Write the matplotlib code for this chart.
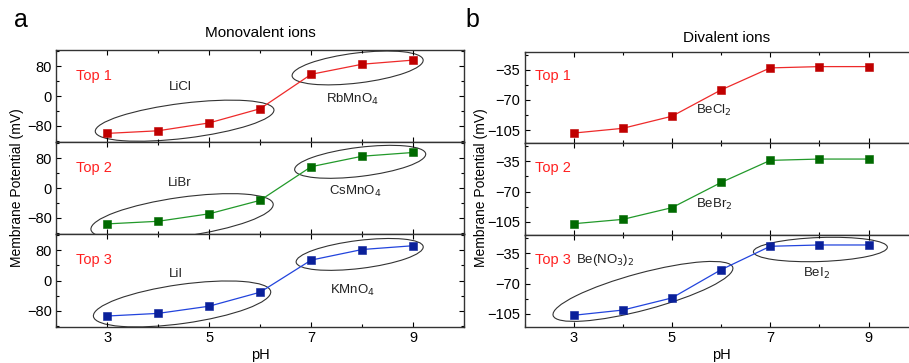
import matplotlib
matplotlib.use("Agg")
import matplotlib.pyplot as plt
import matplotlib.transforms as mtransforms
from matplotlib.patches import Ellipse
from matplotlib.ticker import MultipleLocator, FixedLocator

plt.rcParams['font.family'] = ['Liberation Sans', 'DejaVu Sans']

ph = [3, 4, 5, 6, 7, 8, 9]
ph_ticks = [3, 5, 7, 9]

mono_top1 = [-100, -93, -72, -34, 58, 85, 96]
mono_top2 = [-96, -89, -69, -33, 57, 85, 95]
mono_top3 = [-94, -87, -68, -31, 54, 82, 92]

di_top1 = [-108.5, -103, -89, -58.5, -33, -31.5, -31.5]
di_top2 = [-107, -102, -88.5, -59.5, -34, -32.5, -32.5]
di_top3 = [-106.5, -100.5, -86.5, -54, -27, -25.5, -25.5]

row_labels = ["Top 1", "Top 2", "Top 3"]
mono_salts = [("LiCl", "RbMnO$_4$"), ("LiBr", "CsMnO$_4$"), ("LiI", "KMnO$_4$")]
di_salts = ["BeCl$_2$", "BeBr$_2$", "Be(NO$_3$)$_2$", "BeI$_2$"]

line_colors = ["#ee2a2a", "#22992a", "#2244dd"]
marker_colors = ["#c00000", "#006a00", "#0a209a"]

W, H = 909, 363
fig = plt.figure(figsize=(W / 100, H / 100), dpi=100)

def fx(px):
    return px / W

def fy(py):
    return 1 - py / H

left_rows = [(50, 142), (142, 234), (234, 327)]
right_rows = [(51.5, 143), (143, 235), (235, 327)]
lx0, lx1 = 56, 464.3
rx0, rx1 = 524.5, 917.7

def style(ax, major, minor, bottom_labels):
    ax.xaxis.set_major_locator(FixedLocator(ph_ticks))
    ax.xaxis.set_minor_locator(MultipleLocator(1))
    ax.yaxis.set_major_locator(MultipleLocator(major))
    ax.yaxis.set_minor_locator(MultipleLocator(minor))
    ax.tick_params(which='both', direction='in', top=True, right=True,
                   labelsize=10.5, width=0.8, pad=3)
    ax.tick_params(which='major', length=3.5)
    ax.tick_params(which='minor', length=2)
    if not bottom_labels:
        ax.tick_params(labelbottom=False)
    for s in ax.spines.values():
        s.set_linewidth(1.0)
        s.set_color('#333333')

def ellipse(ax, x, y, w_px, h_px, angle):
    trans = fig.dpi_scale_trans + mtransforms.ScaledTranslation(x, y, ax.transData)
    e = Ellipse((0, 0), w_px / 100, h_px / 100, angle=angle, transform=trans,
                fill=False, edgecolor='#333333', lw=0.8, clip_on=False)
    ax.add_patch(e)

mono_data = [mono_top1, mono_top2, mono_top3]
di_data = [di_top1, di_top2, di_top3]

# ellipse specs: (center pH, center y, width px, height px, angle)
mono_ell = [
    [(4.52, -66, 180, 35, 7), (7.91, 75, 132, 30, 7)],
    [(4.47, -77, 184, 39, 8), (7.96, 70, 132, 29, 7)],
    [(4.47, -62, 179, 39, 8), (7.95, 69, 128, 28, 7)],
]
mono_txt = [
    [(4.43, 24), (7.82, -10)],
    [(4.43, 14), (7.86, -10)],
    [(4.35, 18), (7.8, -26)],
]

left_axes = []
for i, (t, b) in enumerate(left_rows):
    ax = fig.add_axes([fx(lx0), fy(b), fx(lx1 - lx0), (b - t) / H])
    ax.plot(ph, mono_data[i], color=line_colors[i], lw=0.9, marker='s',
            markersize=5.8, markerfacecolor=marker_colors[i],
            markeredgecolor=marker_colors[i], markeredgewidth=0.4, zorder=3)
    ax.set_xlim(2, 10)
    ax.set_ylim(-123, 123)
    style(ax, 80, 40, i == 2)
    ax.text(2.4, 54, row_labels[i], color='#ff2020', fontsize=10.5, va='center', ha='left')
    for (cx, cy), s in zip(mono_txt[i], mono_salts[i]):
        ax.text(cx, cy, s, fontsize=9.5, ha='center', va='center', color='#222222')
    for (cx, cy, w, h, a) in mono_ell[i]:
        ellipse(ax, cx, cy, w, h, a)
    left_axes.append(ax)

right_axes = []
for i, (t, b) in enumerate(right_rows):
    ax = fig.add_axes([fx(rx0), fy(b), fx(rx1 - rx0), (b - t) / H])
    ax.plot(ph, di_data[i], color=line_colors[i], lw=0.9, marker='s',
            markersize=5.8, markerfacecolor=marker_colors[i],
            markeredgecolor=marker_colors[i], markeredgewidth=0.4, zorder=3)
    ax.set_xlim(2, 10)
    ax.set_ylim(-120, -14)
    style(ax, 35, 17.5, i == 2)
    ax.text(2.22, -42.5, row_labels[i], color='#ff2020', fontsize=10.5, va='center', ha='left')
    right_axes.append(ax)

right_axes[0].text(5.86, -82, di_salts[0], fontsize=9.5, ha='center', va='center', color='#222222')
right_axes[1].text(5.86, -85, di_salts[1], fontsize=9.5, ha='center', va='center', color='#222222')
right_axes[2].text(3.04, -42.6, di_salts[2], fontsize=9.5, ha='left', va='center', color='#222222')
right_axes[2].text(7.93, -58.8, di_salts[3], fontsize=9.5, ha='center', va='center', color='#222222')
ellipse(right_axes[2], 4.41, -79, 186, 37, 15)
ellipse(right_axes[2], 8.02, -30.7, 134, 24, 2)

left_axes[2].set_xlabel("pH", fontsize=10.5, labelpad=2)
right_axes[2].set_xlabel("pH", fontsize=10.5, labelpad=2)

fig.text(fx(17), fy(188), "Membrane Potential (mV)", rotation=90, fontsize=10,
         ha='center', va='center')
fig.text(fx(481), fy(188), "Membrane Potential (mV)", rotation=90, fontsize=10,
         ha='center', va='center')

fig.text(fx(260), fy(33), "Monovalent ions", fontsize=11, ha='center', va='center')
fig.text(fx(727), fy(38), "Divalent ions", fontsize=11, ha='center', va='center')
fig.text(fx(21), fy(20), "a", fontsize=18, ha='center', va='center')
fig.text(fx(472), fy(20), "b", fontsize=18, ha='center', va='center')

fig.savefig("out.png", dpi=100)
